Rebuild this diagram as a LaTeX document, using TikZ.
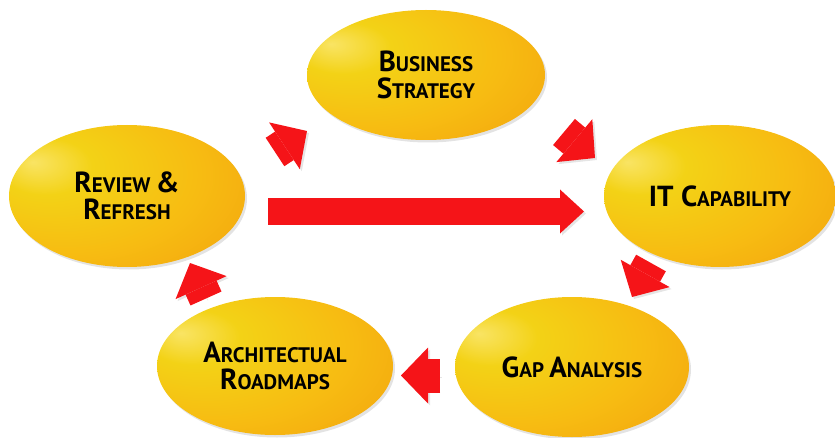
\documentclass[tikz,border=0pt]{standalone}
\usepackage{fontspec}
\setmainfont{PT Sans}
\usepackage{tikz}
\usetikzlibrary{positioning}
\usetikzlibrary{calc}
\usetikzlibrary{shapes.geometric, shadows, arrows.meta}
\definecolor{arrowred}{RGB}{245,20,24}
\definecolor{eggtop}{RGB}{249,228,100}
\definecolor{eggyellow}{RGB}{243,210,22}
\definecolor{egggold}{RGB}{247,188,18}
\definecolor{eggorange}{RGB}{243,163,14}
\definecolor{eggdark}{RGB}{224,132,10}
\definecolor{eggrim}{RGB}{200,110,8}
\pgfdeclareradialshading{eggglow}{\pgfpoint{-20bp}{12bp}}{color(0bp)=(eggtop); color(10bp)=(eggyellow); color(28bp)=(egggold); color(46bp)=(eggorange); color(62bp)=(eggdark); color(76bp)=(eggrim)}
\def\capl(#1){{\fontsize{29}{27}\selectfont #1}}
\tikzstyle{egg} = [ellipse, shade, shading=eggglow, inner sep=0pt, align=center, text=black, font=\fontsize{21}{27}\selectfont\bfseries, drop shadow={opacity=0.22, shadow xshift=2pt, shadow yshift=-2.5pt}]
\tikzstyle{bigarrow} = [draw=arrowred, line width=27pt, -{Triangle[length=24pt,width=44pt,line width=0pt]}, preaction={draw=black, opacity=0.1, transform canvas={shift={(2pt,-2pt)}}}]
\tikzstyle{stubarrow} = [draw=arrowred, line width=34pt, -{Triangle[length=27pt,width=56pt,line width=0pt]}, preaction={draw=black, opacity=0.1, transform canvas={shift={(2pt,-2pt)}}}]

\begin{document}
\begin{tikzpicture}[x=1pt,y=1pt]
\useasboundingbox (0,0) rectangle (835,437);
\node[egg, minimum width=238pt, minimum height=130pt] (bus) at (426,362) {\capl(B)USINESS\\\capl(S)TRATEGY};
\node[egg, minimum width=236pt, minimum height=142pt] (rev) at (127,241) {\capl(R)EVIEW \capl(\&)\\\capl(R)EFRESH};
\node[egg, minimum width=232pt, minimum height=142pt] (itc) at (720,241) {\capl(IT C)APABILITY};
\node[egg, minimum width=234pt, minimum height=140pt] (gap) at (572,70) {\capl(G)AP \capl(A)NALYSIS};
\node[egg, minimum width=236pt, minimum height=138pt] (arc) at (275,71) {\capl(A)RCHITECTUAL\\\capl(R)OADMAPS};
%\draw[dashed] (rev)--(itc);
\draw[bigarrow] ($(rev)+(141,-15.5)$) to ($(itc)+(-136,-15.5)$);
\draw[stubarrow] ($(rev)+(148,44)$) to ($(bus)+(-119,-56)$);
\draw[stubarrow] ($(bus)+(138,-57)$) to ($(itc)+(-125,38)$);
\draw[stubarrow] ($(itc)+(-69,-67)$) to ($(gap)+(60,70)$);
\draw[stubarrow] ($(gap)+(-132,-8.5)$) to ($(arc)+(126,-9.5)$);
\draw[stubarrow] ($(arc)+(-69,67.5)$) to ($(rev)+(63,-67)$);
\end{tikzpicture}
\end{document}
